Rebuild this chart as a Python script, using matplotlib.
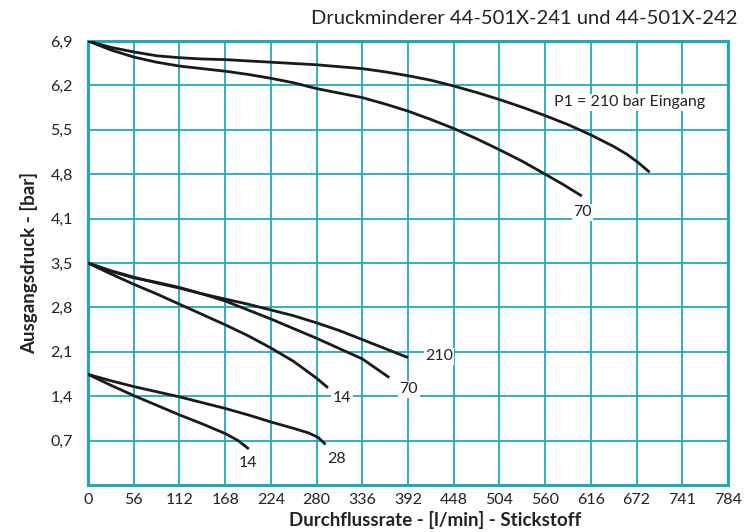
import numpy as np
import matplotlib
matplotlib.use("Agg")
import matplotlib.pyplot as plt

plt.rcParams['font.family'] = ['Lato', 'DejaVu Sans']

# Achsen
x_ticks = [56 * i for i in range(15)]
x_labels = ['0', '56', '112', '168', '224', '280', '336', '392', '448',
            '504', '560', '616', '672', '741', '784']
y_ticks = [0.69 * i for i in range(1, 11)]
y_labels = ['0,7', '1,4', '2,1', '2,8', '3,5', '4,1', '4,8', '5,5', '6,2', '6,9']

# P1 = 210 bar Eingang, obere Gruppe
top210_x = [0, 28, 56, 84, 112, 140, 168, 196, 224, 252, 280, 308, 336, 364, 392,
            420, 448, 476, 504, 532, 560, 588, 616, 644, 660, 674, 688]
top210_y = [6.9, 6.80, 6.73, 6.67, 6.64, 6.62, 6.61, 6.59, 6.57, 6.55, 6.53, 6.50, 6.47,
            6.42, 6.36, 6.29, 6.20, 6.10, 5.99, 5.87, 5.74, 5.60, 5.44, 5.26, 5.14, 5.01, 4.86]
top70_x = [0, 28, 56, 84, 112, 140, 168, 196, 224, 252, 280, 308, 336, 364, 392,
           420, 448, 476, 504, 532, 560, 582, 605]
top70_y = [6.9, 6.76, 6.65, 6.57, 6.51, 6.47, 6.43, 6.38, 6.32, 6.25, 6.16, 6.09, 6.02,
           5.92, 5.81, 5.68, 5.54, 5.38, 5.21, 5.03, 4.83, 4.67, 4.49]

# mittlere Gruppe
mid210_x = [0, 28, 56, 84, 112, 140, 168, 196, 224, 252, 280, 308, 336, 364, 392]
mid210_y = [3.45, 3.33, 3.23, 3.14, 3.06, 2.97, 2.89, 2.81, 2.72, 2.63, 2.52, 2.40,
            2.26, 2.12, 1.98]
mid70_x = [0, 28, 56, 84, 112, 140, 168, 196, 224, 252, 280, 308, 336, 369]
mid70_y = [3.45, 3.32, 3.22, 3.15, 3.07, 2.97, 2.86, 2.72, 2.58, 2.43, 2.28, 2.12,
           1.96, 1.67]
mid14_x = [0, 28, 56, 84, 112, 140, 168, 196, 224, 252, 280, 294]
mid14_y = [3.45, 3.28, 3.12, 2.97, 2.81, 2.65, 2.49, 2.32, 2.13, 1.92, 1.66, 1.51]

# untere Gruppe
low28_x = [0, 28, 56, 84, 112, 140, 168, 196, 224, 252, 270, 282, 291]
low28_y = [1.72, 1.62, 1.53, 1.45, 1.37, 1.28, 1.19, 1.09, 0.98, 0.88, 0.81, 0.74, 0.63]
low14_x = [0, 28, 56, 84, 112, 140, 168, 184, 197]
low14_y = [1.72, 1.55, 1.39, 1.24, 1.09, 0.95, 0.80, 0.69, 0.56]

teal = '#22a9b9'
ink = '#222222'

fig = plt.figure(figsize=(7.49, 5.32), dpi=100)
ax = fig.add_axes([0.1175, 0.0883, 0.8545, 0.8347])

curves = [(top210_x, top210_y), (top70_x, top70_y),
          (mid210_x, mid210_y), (mid70_x, mid70_y), (mid14_x, mid14_y),
          (low28_x, low28_y), (low14_x, low14_y)]
for xs, ys in curves:
    ax.plot(xs, ys, color='#1a1a1a', lw=2, solid_capstyle='butt',
            solid_joinstyle='round', zorder=3)

box = dict(facecolor='white', edgecolor='none', pad=1)
labels = [(606, 4.24, '70'), (663, 5.95, 'P1 = 210 bar Eingang'), (430, 2.0, '210'),
          (393, 1.49, '70'), (311, 1.35, '14'), (304, 0.40, '28'), (196, 0.345, '14')]
for lx, ly, txt in labels:
    ax.text(lx, ly, txt, ha='center', va='center', fontsize=11.5, color=ink,
            bbox=box, zorder=4)

ax.set_xlim(0, 784)
ax.set_ylim(0, 6.9)
ax.set_xticks(x_ticks)
ax.set_xticklabels(x_labels)
ax.set_yticks(y_ticks)
ax.set_yticklabels(y_labels)
ax.tick_params(length=0, labelsize=11.5, labelcolor=ink)
ax.tick_params(axis='y', pad=11)
ax.tick_params(axis='x', pad=6)
ax.grid(True, color=teal, lw=1.3, zorder=1)
ax.set_axisbelow(True)
for s in ax.spines.values():
    s.set_color(teal)
    s.set_linewidth(2.2)

ax.set_xlabel('Durchflussrate - [l/min] - Stickstoff', fontsize=13.5, fontweight='bold',
              color=ink)
ax.xaxis.set_label_coords(0.543, -0.058)
ax.set_ylabel('Ausgangsdruck - [bar]', fontsize=13.5, fontweight='bold', color=ink,
              labelpad=9)

fig.text(0.984, 0.966, 'Druckminderer 44-501X-241 und 44-501X-242', ha='right', va='center',
         fontsize=14.5, color=ink)

fig.savefig('out.png', dpi=100)
